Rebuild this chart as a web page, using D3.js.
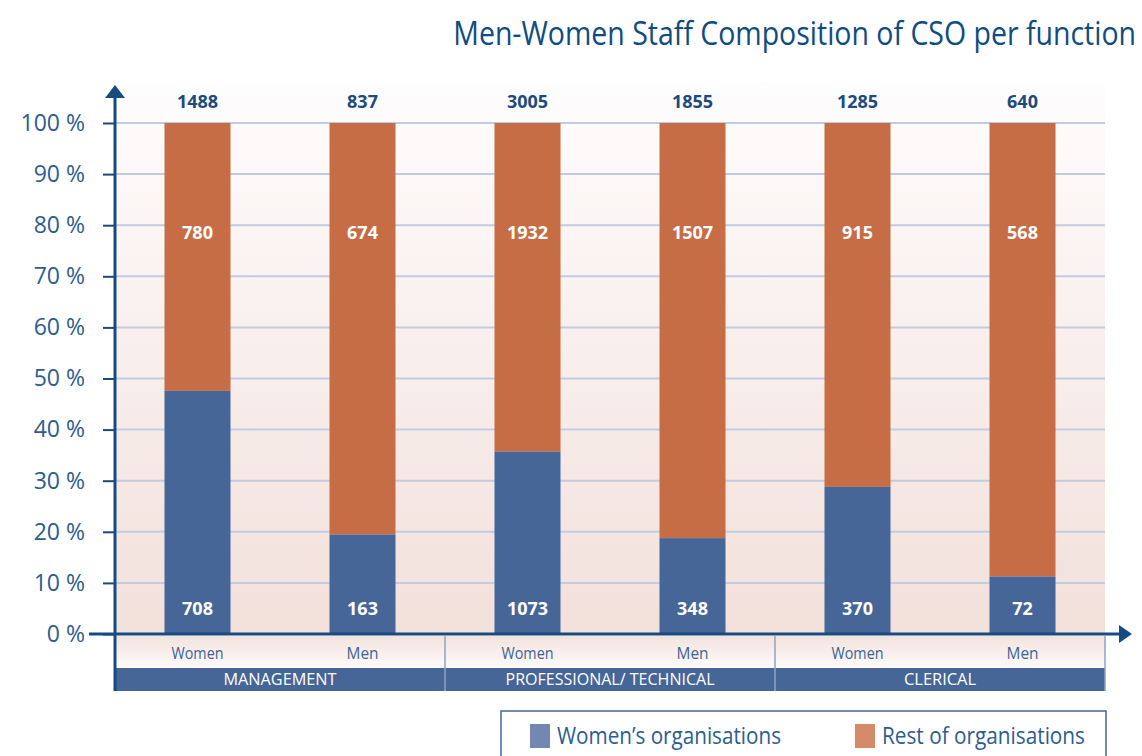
<!DOCTYPE html>
<html>
<head>
<meta charset="utf-8">
<script src="https://cdn.jsdelivr.net/npm/d3@7"></script>
<style>
body{margin:0;background:#fff;}
svg{display:block;font-family:"Open Sans",sans-serif;}
</style>
</head>
<body>
<div id="chart"></div>
<script>
// Men-Women staff composition of CSO per function
var groups = ["MANAGEMENT", "PROFESSIONAL/ TECHNICAL", "CLERICAL"];
var sexes = ["Women", "Men"];
var womenOrgs = [708, 163, 1073, 348, 370, 72];
var restOrgs = [780, 674, 1932, 1507, 915, 568];
var totals = [1488, 837, 3005, 1855, 1285, 640];
var yTicks = [0, 10, 20, 30, 40, 50, 60, 70, 80, 90, 100];

var W = 1142, H = 756;
var margin = {top:123, right:37, bottom:122, left:115},
w = W - margin.left - margin.right,
h = H - margin.top - margin.bottom;

var blue = "#466698", orange = "#c66d45", axisCol = "#164b82";

var svg = d3.select("#chart").append("svg")
  .attr("width", W).attr("height", H);

var defs = svg.append("defs");
var bg = defs.append("linearGradient").attr("id","bg").attr("x1",0).attr("x2",0).attr("y1",0).attr("y2",1);
bg.append("stop").attr("offset","0%").attr("stop-color","#fefdfd");
bg.append("stop").attr("offset","100%").attr("stop-color","#f2e0da");
var bg2 = defs.append("linearGradient").attr("id","bg2").attr("x1",0).attr("x2",0).attr("y1",0).attr("y2",1);
bg2.append("stop").attr("offset","0%").attr("stop-color","#f3e3dd");
bg2.append("stop").attr("offset","100%").attr("stop-color","#fefafa");

var g = svg.append("g").attr("transform",`translate(${margin.left},${margin.top})`);

// scales
var keys = [];
groups.forEach(function(gr,i){ sexes.forEach(function(s){ keys.push(i+"-"+s); }); });
var x = d3.scaleBand().domain(keys).range([0, w]).paddingInner(0.6).paddingOuter(0.3);
var xGroup = d3.scaleBand().domain(groups).range([0, w]);
var y = d3.scaleLinear().domain([0, 100]).range([h, 0]);

// background
g.append("rect").attr("x",0).attr("y",y(100)-40).attr("width",w).attr("height",h+40)
  .attr("fill","url(#bg)");

// grid
g.selectAll(".grid").data(yTicks.slice(1)).enter().append("line")
  .attr("x1",0).attr("x2",w).attr("y1",d=>y(d)).attr("y2",d=>y(d))
  .attr("stroke","#c3cbe0").attr("stroke-width",2);

// category rows under the axis
var rowY = h + 2, rowH = 32, bandH = 23;
g.append("rect").attr("x",0).attr("y",rowY).attr("width",w).attr("height",rowH).attr("fill","url(#bg2)");
g.append("rect").attr("x",0).attr("y",rowY+rowH).attr("width",w).attr("height",bandH).attr("fill",blue);
var gLen = [113, 209, 72];
g.selectAll(".glab").data(groups).enter().append("text")
  .attr("x",d=>xGroup(d)+xGroup.bandwidth()/2).attr("y",rowY+rowH+bandH/2)
  .attr("text-anchor","middle").attr("dy","0.35em").attr("fill","#fff")
  .attr("font-size",16).attr("textLength",(d,i)=>gLen[i]).attr("lengthAdjust","spacingAndGlyphs")
  .text(d=>d);
g.selectAll(".gdiv").data(groups.slice(1)).enter().append("line")
  .attr("x1",d=>xGroup(d)).attr("x2",d=>xGroup(d)).attr("y1",rowY).attr("y2",rowY+rowH+bandH)
  .attr("stroke","#8fa3c4").attr("stroke-width",1.5);
g.append("line").attr("x1",w).attr("x2",w).attr("y1",rowY).attr("y2",rowY+rowH+bandH)
  .attr("stroke","#8fa3c4").attr("stroke-width",1.5);

// data
var data = keys.map(function(k,i){
  return {key:k, sex:k.split("-")[1], women:womenOrgs[i], rest:restOrgs[i], total:totals[i],
          pw:100*womenOrgs[i]/totals[i]};
});

var bars = g.selectAll(".bar").data(data).enter().append("g");
bars.append("rect").attr("x",d=>x(d.key)).attr("width",x.bandwidth())
  .attr("y",y(100)).attr("height",d=>y(d.pw)-y(100)).attr("fill",orange);
bars.append("rect").attr("x",d=>x(d.key)).attr("width",x.bandwidth())
  .attr("y",d=>y(d.pw)).attr("height",d=>h-y(d.pw)).attr("fill",blue);
bars.append("text").attr("x",d=>x(d.key)+x.bandwidth()/2).attr("y",y(78.6))
  .attr("text-anchor","middle").attr("dy","0.35em").attr("fill","#fff")
  .attr("font-weight","bold").attr("font-size",18).text(d=>d.rest);
bars.append("text").attr("x",d=>x(d.key)+x.bandwidth()/2).attr("y",y(5))
  .attr("text-anchor","middle").attr("dy","0.35em").attr("fill","#fff")
  .attr("font-weight","bold").attr("font-size",18).text(d=>d.women);
bars.append("text").attr("x",d=>x(d.key)+x.bandwidth()/2).attr("y",y(100)-21)
  .attr("text-anchor","middle").attr("dy","0.35em").attr("fill","#1d4b7c")
  .attr("font-weight","bold").attr("font-size",18).text(d=>d.total);
bars.append("text").attr("x",d=>x(d.key)+x.bandwidth()/2).attr("y",rowY+17)
  .attr("text-anchor","middle").attr("dy","0.35em").attr("fill","#3a6595")
  .attr("font-size",16).attr("textLength",d=>d.sex=="Women"?52:32).attr("lengthAdjust","spacingAndGlyphs")
  .text(d=>d.sex);

// y axis
var yAxis = g.append("g").call(d3.axisLeft(y).tickValues(yTicks).tickSize(12).tickFormat(d=>d+" %"));
yAxis.select(".domain").remove();
yAxis.selectAll("line").attr("stroke",axisCol).attr("stroke-width",2);
yAxis.selectAll("text").attr("font-size",23).attr("fill","#2c5d8f").attr("x",-30)
  .attr("font-family","Open Sans, sans-serif");
g.append("line").attr("x1",0).attr("x2",0).attr("y1",-30).attr("y2",h+rowH+bandH+2)
  .attr("stroke",axisCol).attr("stroke-width",3);
g.append("path").attr("d",`M-10,-25 L0,-38 L10,-25 Z`).attr("fill",axisCol);
// x axis
g.append("line").attr("x1",-26).attr("x2",w+18).attr("y1",h).attr("y2",h)
  .attr("stroke",axisCol).attr("stroke-width",3);
g.append("path").attr("d",`M${w+14},${h-9} L${w+27},${h} L${w+14},${h+9} Z`).attr("fill",axisCol);

// title (condensed look by horizontal scale)
svg.append("text").attr("transform","translate(1136,45) scale(0.89,1)").attr("text-anchor","end")
  .attr("fill","#0f4c81").attr("font-size",32)
  .text("Men-Women Staff Composition of CSO per function");

// legend
var leg = svg.append("g");
leg.append("rect").attr("x",501).attr("y",711).attr("width",605).attr("height",60)
  .attr("fill","#fff").attr("stroke",blue).attr("stroke-width",1.5);
var legItems = [{label:"Women\u2019s organisations", color:"#7487b2", x:530, len:224},
                {label:"Rest of organisations", color:"#d48b6a", x:855, len:203}];
legItems.forEach(function(d){
  leg.append("rect").attr("x",d.x).attr("y",724).attr("width",20).attr("height",24).attr("fill",d.color);
  leg.append("text").attr("x",d.x+27).attr("y",736).attr("dy","0.35em")
    .attr("font-size",24).attr("fill","#2c5d8f")
    .attr("textLength",d.len).attr("lengthAdjust","spacingAndGlyphs").text(d.label);
});
</script>
</body>
</html>
